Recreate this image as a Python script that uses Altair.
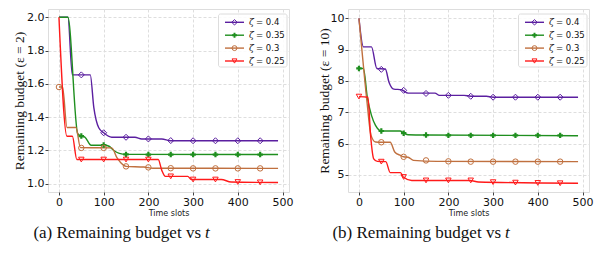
import altair as alt
import pandas as pd

# ---------------- data ----------------
series = ["0.4", "0.35", "0.3", "0.25"]
colors = ["#5b1fa0", "#1f8f1f", "#c0703f", "#ff1a1a"]
shapes = ["diamond", "cross", "circle", "triangle-down"]
filled = [False, True, False, False]

x_ticks = [0, 100, 200, 300, 400, 500]
a_y_ticks = [1.0, 1.2, 1.4, 1.6, 1.8, 2.0]
b_y_ticks = [5, 6, 7, 8, 9, 10]

marks_x = [50, 100, 150, 200, 250, 300, 350, 400, 450]
marks_x0 = [0, 50, 100, 150, 200, 250, 300, 350, 400, 450]

# panel (a): epsilon = 2
a04_x = [0, 20, 30, 70, 78, 89, 100, 118, 170, 185, 230, 250, 490]
a04_y = [2.0, 2.0, 1.654, 1.654, 1.457, 1.336, 1.306, 1.279, 1.279, 1.269, 1.269, 1.258, 1.258]
a04_mx = marks_x
a04_my = [1.654, 1.306, 1.279, 1.269, 1.259, 1.258, 1.258, 1.258, 1.258]

a035_x = [0, 20, 42, 50, 58, 72, 103, 112, 125, 135, 150, 490]
a035_y = [2.0, 2.0, 1.30, 1.286, 1.28, 1.231, 1.231, 1.225, 1.195, 1.182, 1.176, 1.175]
a035_mx = marks_x
a035_my = [1.286, 1.232, 1.176, 1.175, 1.175, 1.175, 1.175, 1.175, 1.175]

a03_x = [0, 8, 18, 38, 48, 118, 130, 144, 150, 190, 210, 490]
a03_y = [1.581, 1.581, 1.338, 1.338, 1.217, 1.215, 1.155, 1.112, 1.104, 1.100, 1.093, 1.092]
a03_mx = marks_x0
a03_my = [1.581, 1.215, 1.215, 1.104, 1.098, 1.093, 1.092, 1.092, 1.092, 1.092]

a025_x = [0, 18, 30, 40, 222, 230, 238, 288, 296, 363, 385, 490]
a025_y = [2.0, 1.285, 1.285, 1.145, 1.145, 1.08, 1.044, 1.044, 1.025, 1.025, 1.010, 1.007]
a025_mx = marks_x
a025_my = [1.145, 1.145, 1.145, 1.145, 1.044, 1.025, 1.025, 1.010, 1.008]

# panel (b): epsilon = 10
b04_x = [0, 10, 28, 40, 59, 67, 78, 95, 110, 170, 180, 235, 250, 285, 300, 490]
b04_y = [10, 9.09, 9.09, 8.40, 8.38, 7.97, 7.74, 7.72, 7.61, 7.61, 7.54, 7.54, 7.51, 7.51, 7.48, 7.48]
b04_mx = marks_x
b04_my = [8.37, 7.70, 7.60, 7.54, 7.51, 7.48, 7.48, 7.48, 7.48]

b035_x = [0, 10, 19, 28, 37, 46, 50, 92, 100, 110, 150, 490]
b035_y = [8.40, 8.40, 7.44, 6.90, 6.58, 6.42, 6.40, 6.40, 6.34, 6.28, 6.27, 6.25]
b035_mx = marks_x0
b035_my = [8.40, 6.40, 6.33, 6.27, 6.26, 6.26, 6.26, 6.26, 6.26, 6.26]

b03_x = [0, 7, 18, 27, 37, 50, 70, 80, 93, 100, 110, 122, 175, 490]
b03_y = [10, 8.93, 7.33, 6.26, 6.05, 6.04, 6.04, 5.73, 5.62, 5.575, 5.56, 5.46, 5.43, 5.42]
b03_mx = marks_x
b03_my = [6.04, 5.575, 5.46, 5.43, 5.42, 5.42, 5.42, 5.42, 5.42]

b025_x = [0, 20, 26, 33, 41, 60, 70, 93, 99, 118, 249, 267, 490]
b025_y = [7.50, 7.48, 6.26, 5.51, 5.43, 5.42, 5.07, 5.07, 4.93, 4.82, 4.82, 4.77, 4.73]
b025_mx = marks_x0
b025_my = [7.50, 5.42, 4.93, 4.82, 4.82, 4.82, 4.765, 4.75, 4.74, 4.73]

W, H = 241, 183
X_DOMAIN = [-24.5, 514.5]
SIZES = [36, 30, 30, 30]


def panel(lines, markers, ydomain, yticks, yfmt, ytitle, ytitle_x, caption):
    xs = alt.Scale(domain=X_DOMAIN, nice=False, zero=False)
    ys = alt.Scale(domain=ydomain, nice=False, zero=False)
    xaxis = alt.Axis(values=x_ticks, format="d", title="Time slots",
                     titleFont="DejaVu Sans", titleFontSize=8, titleFontWeight="normal",
                     titleColor="#222", titleY=21, titleBaseline="middle",
                     labelFont="DejaVu Sans", labelFontSize=11, labelColor="#111",
                     labelPadding=1, tickSize=3, tickColor="#444", domain=False,
                     grid=True, gridDash=[3, 2], gridColor="#dedede", labelFlush=False)
    yaxis = alt.Axis(values=yticks, format=yfmt, title=ytitle,
                     titleFont="Liberation Serif", titleFontSize=13.5, titleFontWeight="normal",
                     titleColor="#111", titleX=ytitle_x, titleY=H / 2, titleAngle=-90,
                     titleBaseline="middle", titleAlign="center",
                     labelFont="DejaVu Sans", labelFontSize=11, labelColor="#111",
                     labelPadding=1, tickSize=3, tickColor="#444", domain=False,
                     grid=True, gridDash=[3, 2], gridColor="#dedede", labelFlush=False)
    enc_x = alt.X("x:Q", scale=xs, axis=xaxis)
    enc_y = alt.Y("y:Q", scale=ys, axis=yaxis)
    layers = []
    for i, (lx, ly) in enumerate(lines):
        df = pd.DataFrame({"x": lx, "y": ly})
        layers.append(alt.Chart(df).mark_line(color=colors[i], strokeWidth=1.4,
                                              interpolate="monotone")
                      .encode(x=enc_x, y=enc_y, order=alt.Order("x:Q")))
    for i, (mx, my) in enumerate(markers):
        df = pd.DataFrame({"x": mx, "y": my})
        layers.append(alt.Chart(df).mark_point(shape=shapes[i], filled=filled[i],
                                               color=colors[i], size=SIZES[i], strokeWidth=1,
                                               opacity=1)
                      .encode(x=enc_x, y=enc_y))
    # legend box
    box = pd.DataFrame({"k": [0]})
    layers.append(alt.Chart(box).mark_rect(fill="white", stroke="#d0d0d0", strokeWidth=0.8,
                                           cornerRadius=2, opacity=0.9)
                  .encode(x=alt.value(170.5), x2=alt.value(239), y=alt.value(5), y2=alt.value(58)))
    for i, s in enumerate(series):
        yy = 13.3 + 12.9 * i
        d = pd.DataFrame({"label": ["= " + s]})
        layers.append(alt.Chart(d).mark_rule(color=colors[i], strokeWidth=1.4)
                      .encode(x=alt.value(177), x2=alt.value(196), y=alt.value(yy)))
        layers.append(alt.Chart(d).mark_point(shape=shapes[i], filled=filled[i],
                                              color=colors[i], size=SIZES[i] - 6, strokeWidth=1,
                                              opacity=1)
                      .encode(x=alt.value(186.5), y=alt.value(yy)))
        layers.append(alt.Chart(d).mark_text(text="ζ", font="DejaVu Serif", fontStyle="italic",
                                             fontSize=9, align="left", baseline="middle",
                                             color="#111")
                      .encode(x=alt.value(201), y=alt.value(yy)))
        layers.append(alt.Chart(d).mark_text(font="DejaVu Sans", fontSize=8.5, align="left",
                                             baseline="middle", color="#111")
                      .encode(x=alt.value(208), y=alt.value(yy), text="label:N"))
    # caption
    cap = pd.DataFrame({"c": [caption]})
    layers.append(alt.Chart(cap).mark_text(font="Liberation Serif", fontSize=17, align="right",
                                           baseline="middle", color="#111")
                  .encode(x=alt.value(153), y=alt.value(224), text="c:N"))
    layers.append(alt.Chart(pd.DataFrame({"t": ["t"]})).mark_text(
        font="Liberation Serif", fontStyle="italic", fontSize=17, align="left",
        baseline="middle", color="#111")
        .encode(x=alt.value(157), y=alt.value(224), text="t:N"))
    return alt.layer(*layers).properties(width=W, height=H)


left = panel(
    [(a04_x, a04_y), (a035_x, a035_y), (a03_x, a03_y), (a025_x, a025_y)],
    [(a04_mx, a04_my), (a035_mx, a035_my), (a03_mx, a03_my), (a025_mx, a025_my)],
    [0.95, 2.05], a_y_ticks, ".1f", "Remaining budget (ε = 2)", -29,
    "(a) Remaining budget vs")
right = panel(
    [(b04_x, b04_y), (b035_x, b035_y), (b03_x, b03_y), (b025_x, b025_y)],
    [(b04_mx, b04_my), (b035_mx, b035_my), (b03_mx, b03_my), (b025_mx, b025_my)],
    [4.45, 10.3], b_y_ticks, "d", "Remaining budget (ε = 10)", -24,
    "(b) Remaining budget vs")

chart = alt.hconcat(left, right, spacing=59, bounds="flush").properties(
    padding={"left": 3, "top": 0, "right": 0, "bottom": 0}
).configure_view(stroke="#555", strokeWidth=1).configure(background="white")

chart.save("out.html", embed_options={"renderer": "svg", "actions": False})
